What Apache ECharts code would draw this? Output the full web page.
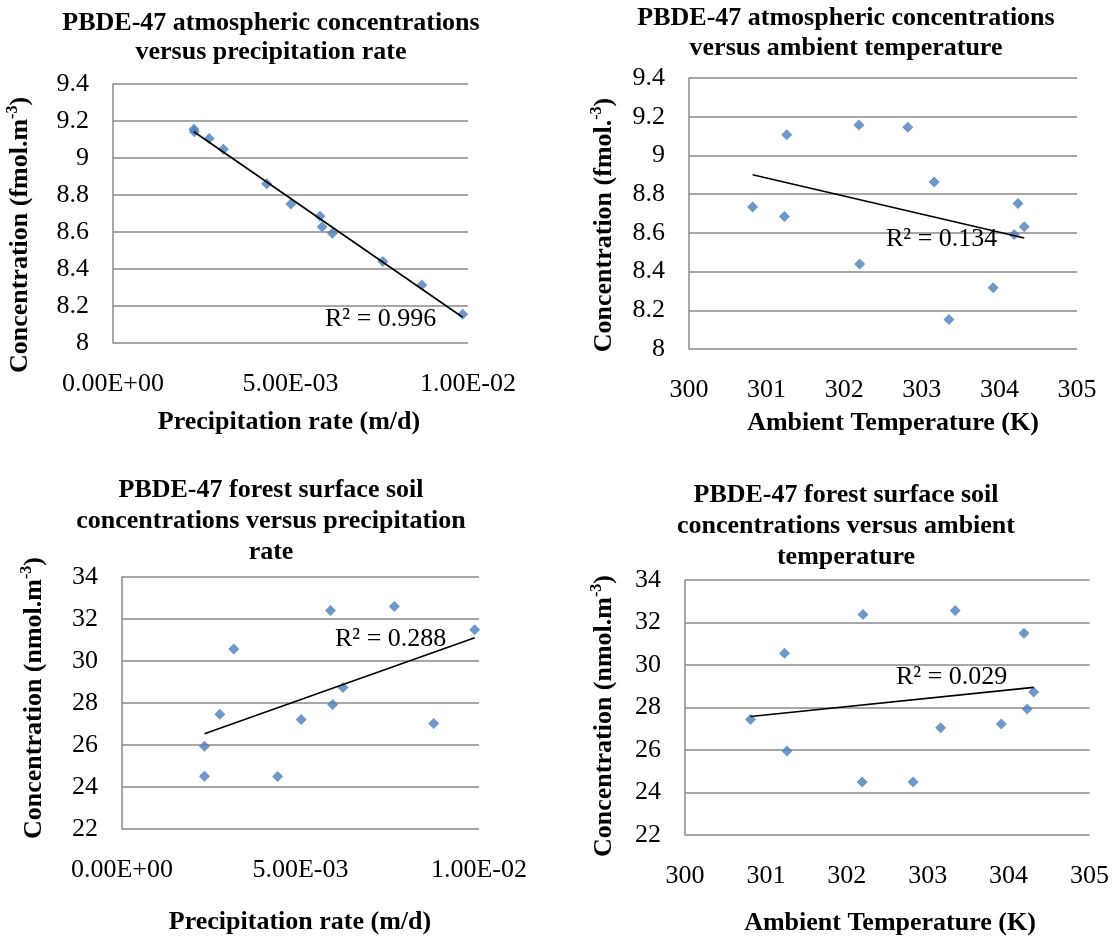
<!DOCTYPE html>
<html><head><meta charset="utf-8">
<script src="https://cdn.jsdelivr.net/npm/echarts@6/dist/echarts.min.js"></script>
<style>html,body{margin:0;padding:0;background:#fff}#c{width:1112px;height:939px}</style>
</head><body><div id="c"></div>
<script>
// ---- data ----
const atmPrecipX = [0.00228,0.00229,0.00271,0.00311,0.00433,0.00501,0.00583,0.00589,0.00618,0.00760,0.00870,0.00985];
const atmPrecipY = [9.155,9.142,9.106,9.047,8.861,8.751,8.685,8.629,8.593,8.440,8.314,8.155];
const atmTempX = [300.82,301.26,301.23,302.19,302.20,302.82,303.16,303.35,303.92,304.24,304.19,304.32];
const atmTempY = [8.734,9.107,8.684,9.157,8.439,9.145,8.863,8.153,8.317,8.752,8.591,8.632];
const soilPrecipX = [0.00231,0.00231,0.00274,0.00313,0.00436,0.00502,0.00584,0.00590,0.00619,0.00763,0.00873,0.00988];
const soilPrecipY = [25.94,24.51,27.47,30.57,24.50,27.21,32.41,27.93,28.74,32.59,27.02,31.49];
const soilTempX = [300.81,301.23,301.26,302.20,302.19,302.82,303.16,303.34,303.91,304.19,304.23,304.31];
const soilTempY = [27.44,30.55,25.95,32.38,24.49,24.49,27.05,32.57,27.22,31.49,27.93,28.73];

const precipTickLabels = ['0.00E+00','5.00E-03','1.00E-02'];
const tempTickLabels = ['300','301','302','303','304','305'];
const r2Labels = ['R² = 0.996','R² = 0.134','R² = 0.288','R² = 0.029'];
const chartTitles = [
  'PBDE-47 atmospheric concentrations\nversus precipitation rate',
  'PBDE-47 atmospheric concentrations\nversus ambient temperature',
  'PBDE-47 forest surface soil\nconcentrations versus precipitation\nrate',
  'PBDE-47 forest surface soil\nconcentrations versus ambient\ntemperature'
];
const xTitles = ['Precipitation rate (m/d)','Ambient Temperature (K)','Precipitation rate (m/d)','Ambient Temperature (K)'];
const yTitles = [
  '{b|Concentration (fmol.m}{s|-3}{b|)}',
  '{b|Concentration (fmol.}{s|-3}{b|)}',
  '{b|Concentration (nmol.m}{s|-3}{b|)}',
  '{b|Concentration (nmol.m}{s|-3}{b|)}'
];

// ---- build ----
const FONT = '"Liberation Serif","Times New Roman",serif';
const GRID_COLOR = '#8a8a8a';
const MARKER = '#4A7EBB';

function linfit(xs, ys) {
  const n = xs.length;
  let sx=0, sy=0, sxx=0, sxy=0;
  for (let i=0;i<n;i++){sx+=xs[i];sy+=ys[i];sxx+=xs[i]*xs[i];sxy+=xs[i]*ys[i];}
  const b = (n*sxy - sx*sy)/(n*sxx - sx*sx);
  const a = (sy - b*sx)/n;
  const x0 = Math.min(...xs), x1 = Math.max(...xs);
  return [[x0, a+b*x0],[x1, a+b*x1]];
}

const panels = [
  {x: atmPrecipX, y: atmPrecipY, grid:{left:113,top:84,width:355,height:259}, xmin:0, xmax:0.01, xint:0.005, xl: v=>precipTickLabels[Math.round(v/0.005)], ymin:8, ymax:9.4, yint:0.2},
  {x: atmTempX, y: atmTempY, grid:{left:689,top:78,width:388,height:271}, xmin:300, xmax:305, xint:1, xl: v=>tempTickLabels[Math.round(v-300)], ymin:8, ymax:9.4, yint:0.2},
  {x: soilPrecipX, y: soilPrecipY, grid:{left:122,top:577,width:357,height:252}, xmin:0, xmax:0.01, xint:0.005, xl: v=>precipTickLabels[Math.round(v/0.005)], ymin:22, ymax:34, yint:2},
  {x: soilTempX, y: soilTempY, grid:{left:685,top:580,width:405,height:255}, xmin:300, xmax:305, xint:1, xl: v=>tempTickLabels[Math.round(v-300)], ymin:22, ymax:34, yint:2}
];

const grid=[], xAxis=[], yAxis=[], series=[];
panels.forEach((p,i)=>{
  grid.push(p.grid);
  xAxis.push({type:'value', gridIndex:i, min:p.xmin, max:p.xmax, interval:p.xint,
    axisLine:{show:false}, axisTick:{show:false}, splitLine:{show:false},
    axisLabel:{margin:28, fontFamily:FONT, fontSize:26, color:'#000', formatter:p.xl, hideOverlap:false}});
  yAxis.push({type:'value', gridIndex:i, min:p.ymin, max:p.ymax, interval:p.yint,
    axisLine:{show:true, lineStyle:{color:GRID_COLOR, width:1.5}}, axisTick:{show:false},
    splitLine:{show:true, lineStyle:{color:GRID_COLOR, width:1.5}},
    axisLabel:{margin:24, fontFamily:FONT, fontSize:26, color:'#000'}});
  series.push({type:'scatter', xAxisIndex:i, yAxisIndex:i, symbol:'diamond', symbolSize:11,
    itemStyle:{color:MARKER}, data:p.x.map((v,k)=>[v,p.y[k]]), z:2});
  series.push({type:'line', xAxisIndex:i, yAxisIndex:i, symbol:'none', silent:true,
    lineStyle:{color:'#000', width:1.6}, data:linfit(p.x,p.y), z:3});
});

const titlePos = [{x:271,y:8.5,lh:29},{x:846,y:3,lh:30},{x:271,y:475,lh:31},{x:846,y:480,lh:31}];
const xTitlePos = [[289,422],[893,423],[300,922],[890,923]];
const yTitlePos = [[20,235],[604,225],[34,698],[604,716]];
const r2Pos = [[325,319],[886,239],[335,639],[896,677]];

const graphic=[];
for (let i=0;i<4;i++){
  graphic.push({type:'text', x:titlePos[i].x, y:titlePos[i].y, style:{text:chartTitles[i], fontFamily:FONT, fontSize:26, fontWeight:'bold', lineHeight:titlePos[i].lh, fill:'#000', textAlign:'center', textVerticalAlign:'top'}});
  graphic.push({type:'text', x:xTitlePos[i][0], y:xTitlePos[i][1], style:{text:xTitles[i], fontFamily:FONT, fontSize:26, fontWeight:'bold', fill:'#000', textAlign:'center', textVerticalAlign:'middle'}});
  graphic.push({type:'text', x:yTitlePos[i][0], y:yTitlePos[i][1], rotation:Math.PI/2,
    style:{text:yTitles[i], textAlign:'center', textVerticalAlign:'middle', fill:'#000',
      rich:{b:{fontFamily:FONT, fontSize:26, fontWeight:'bold', lineHeight:30, fill:'#000'},
            s:{fontFamily:FONT, fontSize:16, fontWeight:'bold', lineHeight:16, verticalAlign:'top', fill:'#000'}}}});
  graphic.push({type:'text', x:r2Pos[i][0], y:r2Pos[i][1], z:10, style:{text:r2Labels[i], fontFamily:FONT, fontSize:26, fill:'#000', textAlign:'left', textVerticalAlign:'middle'}});
}

const chart = echarts.init(document.getElementById('c'), null, {renderer:'canvas'});
chart.setOption({backgroundColor:'#fff', animation:false, grid, xAxis, yAxis, series, graphic});
</script></body></html>
